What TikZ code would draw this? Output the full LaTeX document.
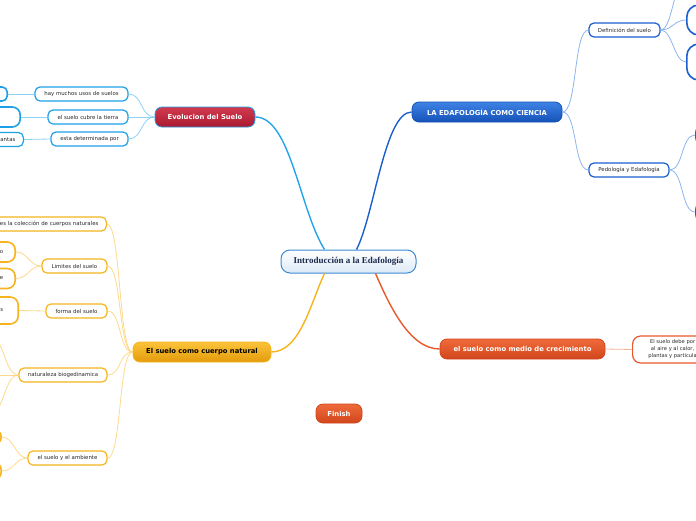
\documentclass[tikz,border=0pt]{standalone}
\usepackage{fontspec}
\setsansfont{DejaVu Sans}
\newfontfamily\serifb{Liberation Serif}
\definecolor{cyanB}{HTML}{1EA0E6}
\definecolor{cyanM}{HTML}{22A5E8}
\definecolor{cyanL}{HTML}{8CD2F5}
\definecolor{blueB}{HTML}{1A5FD0}
\definecolor{blueM}{HTML}{1B5FCF}
\definecolor{blueL}{HTML}{8DB4EE}
\definecolor{amB}{HTML}{F5B41E}
\definecolor{amL}{HTML}{FDD98C}
\definecolor{redB}{HTML}{E8582A}
\definecolor{redL}{HTML}{F5B39A}
\definecolor{ctrB}{HTML}{3C8AD2}
\definecolor{ctrT}{HTML}{1B2A4E}
\definecolor{edT}{HTML}{3E82E4}
\definecolor{edD}{HTML}{1552B8}
\definecolor{evT}{HTML}{D23A4E}
\definecolor{evD}{HTML}{A81A30}
\definecolor{amT}{HTML}{FBC33A}
\definecolor{amD}{HTML}{E39B0C}
\definecolor{rdT}{HTML}{EF6A3A}
\definecolor{rdD}{HTML}{D1461C}
\definecolor{kidT}{HTML}{2A2A2A}
\begin{document}
\begin{tikzpicture}[x=1pt,y=-1pt,
  base/.style={rounded corners=6pt, inner sep=0pt, align=center},
  topic/.style={base, rounded corners=7pt, minimum height=20pt, line width=0.8pt,
    font=\sffamily\bfseries\fontsize{6.8}{7.5}\selectfont, text=white},
  kid/.style={base, rounded corners=5pt, minimum height=14pt, fill=white, line width=1.2pt,
    font=\sffamily\fontsize{5.4}{6.5}\selectfont, text=kidT},
  frag/.style={kid, line width=1.6pt, rounded corners=8pt},
  mainline/.style={line width=1.4pt},
  kidline/.style={line width=0.8pt}
]
\useasboundingbox (0,0) rectangle (696,520);

% ---------- central and main topics ----------
\node[base, rounded corners=9pt, minimum width=135pt, minimum height=23pt, draw=ctrB, line width=1pt,
  top color=white, bottom color=ctrB!18, font=\serifb\bfseries\fontsize{9}{10}\selectfont, text=ctrT]
  (ctr) at (348.5,261.5) {Introducción a la Edafología};

\node[topic, minimum width=150pt, top color=edT, bottom color=edD, draw=edD] (edaf) at (487,112) {LA EDAFOLOGÍA COMO CIENCIA};
\node[topic, minimum width=100pt, top color=evT, bottom color=evD, draw=cyanB] (evo) at (205,117) {Evolucion del Suelo};
\node[topic, minimum width=138pt, top color=amT, bottom color=amD, draw=amB, text=black] (cuerpo) at (202,352) {El suelo como cuerpo natural};
\node[topic, minimum width=165pt, top color=rdT, bottom color=rdD, draw=rdD] (medio) at (522.5,349) {el suelo como medio de crecimiento};
\node[topic, minimum width=46pt, minimum height=19pt, top color=rdT, bottom color=rdD, draw=rdD] (fin) at (339,413.5) {Finish};

\draw[mainline, cyanM] ([xshift=-24pt]ctr.north) .. controls +(-25,-40) and +(35,0) .. (evo.east);
\draw[mainline, blueM] ([xshift=8pt]ctr.north) .. controls +(18,-35) and +(-27,0) .. (edaf.west);
\draw[mainline, amB] ([xshift=-24pt]ctr.south) .. controls +(-13,27) and +(29,0) .. (cuerpo.east);
\draw[mainline, redB] ([xshift=27pt]ctr.south) .. controls +(14,32) and +(-30,0) .. (medio.west);

% ---------- LA EDAFOLOGIA branch ----------
\node[kid, draw=blueB, minimum width=71pt] (def) at (624.5,30) {Definición del suelo};
\node[kid, draw=blueB, minimum width=80pt] (ped) at (629,170) {Pedología y Edafología};
\node[frag, draw=blueB, anchor=west, minimum width=40pt, minimum height=34pt, rounded corners=12pt] (d0) at (686,-22) {};
\node[frag, draw=blueB, anchor=west, minimum width=40pt, minimum height=30pt, rounded corners=12pt] (d1) at (686,20) {};
\node[frag, draw=blueB, anchor=west, minimum width=40pt, minimum height=36pt, rounded corners=12pt] (d2) at (686,62) {};
\node[frag, draw=blueB, anchor=west, minimum width=40pt, minimum height=20pt] (p1) at (695,135) {};
\node[frag, draw=blueB, anchor=west, minimum width=40pt, minimum height=20pt] (p2) at (695,212) {};

\draw[kidline, blueL] (edaf.east) .. controls +(15,0) and +(-15,0) .. (def.west);
\draw[kidline, blueL] (edaf.east) .. controls +(15,0) and +(-15,0) .. (ped.west);
\draw[kidline, blueL] (def.east) .. controls +(12,0) and +(-12,0) .. (d0.west);
\draw[kidline, blueL] (def.east) .. controls +(12,0) and +(-12,0) .. (d1.west);
\draw[kidline, blueL] (def.east) .. controls +(12,0) and +(-12,0) .. (d2.west);
\draw[kidline, blueL] (ped.east) .. controls +(14,0) and +(-14,0) .. (p1.west);
\draw[kidline, blueL] (ped.east) .. controls +(14,0) and +(-14,0) .. (p2.west);

% ---------- Evolucion branch ----------
\node[kid, draw=cyanB, minimum width=93pt] (e1) at (81.5,94) {hay muchos usos de suelos};
\node[kid, draw=cyanB, minimum width=80pt] (e2) at (88,117) {el suelo cubre la tierra};
\node[kid, draw=cyanB, minimum width=77pt] (e3) at (89.5,139) {esta determinada por};
\node[frag, draw=cyanB, anchor=east, minimum width=40pt, minimum height=14pt, rounded corners=5pt] (e1a) at (8,94) {};
\node[frag, draw=cyanB, anchor=east, minimum width=50pt, minimum height=20pt] (e2a) at (21,117) {};
\node[kid, draw=cyanB, anchor=east, text width=40pt, align=right, inner xsep=8pt, minimum height=14pt] (e3a) at (24,139.5) {antas};

\draw[kidline, cyanL] (evo.west) .. controls +(-14,0) and +(14,0) .. (e1.east);
\draw[kidline, cyanL] (evo.west) -- (e2.east);
\draw[kidline, cyanL] (evo.west) .. controls +(-14,0) and +(14,0) .. (e3.east);
\draw[kidline, cyanL] (e1.west) -- (e1a.east);
\draw[kidline, cyanL] (e2.west) -- (e2a.east);
\draw[kidline, cyanL] (e3.west) -- (e3a.east);

% ---------- Cuerpo natural branch ----------
\node[kid, draw=amB, anchor=east, inner xsep=8pt] (a1) at (107,224) {es la colección de cuerpos naturales};
\node[kid, draw=amB, minimum width=65pt] (a2) at (74.5,266) {Limites del suelo};
\node[kid, draw=amB, minimum width=61pt] (a3) at (76.5,311) {forma del suelo};
\node[kid, draw=amB, minimum width=88pt] (a4) at (63,375) {naturaleza biogedinamica};
\node[kid, draw=amB, minimum width=79pt] (a5) at (67.5,458) {el suelo y el ambiente};

\node[frag, draw=amB, anchor=east, text width=40pt, align=right, inner xsep=12pt, minimum height=20pt] (a2a) at (16,252) {o};
\node[frag, draw=amB, anchor=east, text width=40pt, align=right, inner xsep=12pt, minimum height=20pt] (a2b) at (16,278.5) {e};
\node[frag, draw=amB, anchor=east, text width=40pt, align=right, inner xsep=15pt, minimum height=27pt] (a3a) at (19,310.5) {s};
\node[frag, draw=amB, anchor=east, minimum width=20pt, minimum height=14pt] (a4a) at (-10,336) {};
\node[frag, draw=amB, anchor=east, minimum width=20pt, minimum height=14pt] (a4b) at (-10,375) {};
\node[frag, draw=amB, anchor=east, minimum width=20pt, minimum height=14pt] (a4c) at (-10,414) {};
\node[frag, draw=amB, anchor=east, minimum width=40pt, minimum height=16pt] (a5a) at (2,437) {};
\node[frag, draw=amB, anchor=east, minimum width=40pt, minimum height=18pt] (a5b) at (2,471) {};

\foreach \k in {a1,a2,a3,a4,a5}
  \draw[kidline, amL] (cuerpo.west) .. controls +(-14,0) and +(14,0) .. (\k.east);
\draw[kidline, amL] (a2.west) .. controls +(-12,0) and +(12,0) .. (a2a.east);
\draw[kidline, amL] (a2.west) .. controls +(-12,0) and +(12,0) .. (a2b.east);
\draw[kidline, amL] (a3.west) -- (a3a.east);
\draw[kidline, amL] (a4.west) .. controls +(-14,0) and +(14,0) .. (a4a.east);
\draw[kidline, amL] (a4.west) -- (a4b.east);
\draw[kidline, amL] (a4.west) .. controls +(-14,0) and +(14,0) .. (a4c.east);
\draw[kidline, amL] (a5.west) .. controls +(-12,0) and +(12,0) .. (a5a.east);
\draw[kidline, amL] (a5.west) .. controls +(-12,0) and +(12,0) .. (a5b.east);

% ---------- medio branch ----------
\node[kid, draw=redB, anchor=west, minimum width=80pt, minimum height=27pt, rounded corners=8pt,
  font=\sffamily\fontsize{5.2}{7}\selectfont] (m1) at (632,349.5) {El suelo debe por\\al aire y al calor,\\plantas y particula};
\draw[kidline, redL] (medio.east) -- (m1.west);
\end{tikzpicture}
\end{document}
